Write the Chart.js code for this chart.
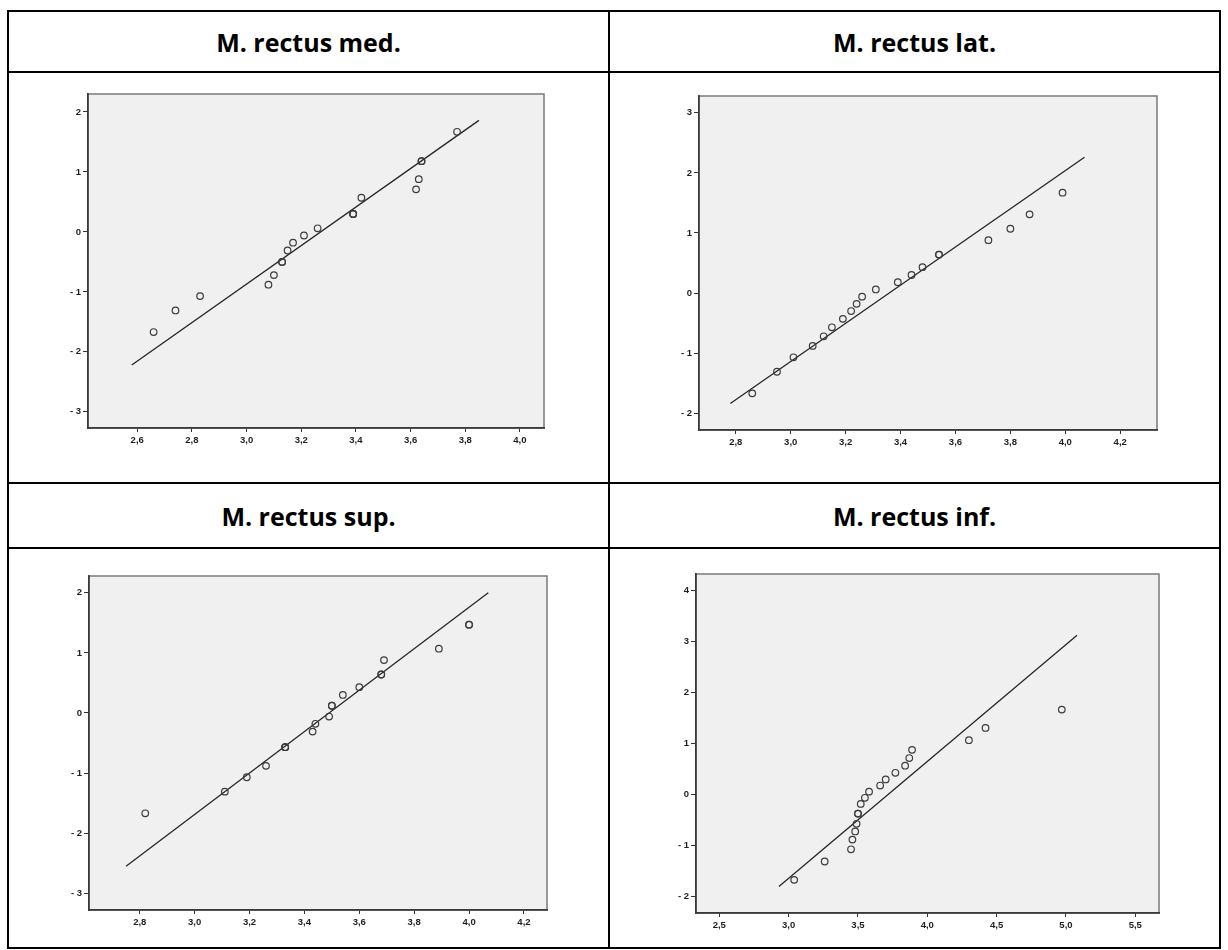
<!DOCTYPE html>
<html>
<head>
<meta charset="utf-8">
<script src="https://cdn.jsdelivr.net/npm/chart.js@4.4.1/dist/chart.umd.min.js"></script>
<style>
  html, body { margin: 0; padding: 0; background: #fff; }
  body { position: relative; width: 1228px; height: 950px; overflow: hidden; }
  .frame { position: absolute; left: 7px; top: 10px; width: 1214px; height: 939px; box-sizing: border-box; border: 2px solid #000; }
  .hline { position: absolute; left: 7px; width: 1214px; height: 2px; background: #000; }
  .vline { position: absolute; left: 608px; top: 10px; width: 2px; height: 939px; background: #000; }
  .head { position: absolute; display: flex; align-items: center; justify-content: center;
          font-family: "Open Sans", "Liberation Sans", sans-serif; font-weight: 700; font-size: 25px; color: #000; }
  canvas { position: absolute; }
</style>
</head>
<body>
<div class="frame"></div>
<div class="hline" style="top:71px"></div>
<div class="hline" style="top:482px"></div>
<div class="hline" style="top:547px"></div>
<div class="vline"></div>

<div class="head" style="left:9px;top:12px;width:599px;height:59px">M. rectus med.</div>
<div class="head" style="left:610px;top:12px;width:609px;height:59px">M. rectus lat.</div>
<div class="head" style="left:9px;top:484px;width:599px;height:63px">M. rectus sup.</div>
<div class="head" style="left:610px;top:484px;width:609px;height:63px">M. rectus inf.</div>

<canvas id="qq-med"></canvas>
<canvas id="qq-lat"></canvas>
<canvas id="qq-sup"></canvas>
<canvas id="qq-inf"></canvas>

<script>
// observed values and expected normal scores
const medValues = [2.66, 2.74, 2.83, 3.08, 3.10, 3.13, 3.13, 3.15, 3.17, 3.21, 3.26, 3.39, 3.39, 3.39, 3.42, 3.62, 3.63, 3.64, 3.64, 3.77];
const medScores = [-1.67, -1.31, -1.07, -0.88, -0.72, -0.50, -0.50, -0.31, -0.18, -0.06, 0.06, 0.30, 0.30, 0.30, 0.57, 0.71, 0.88, 1.18, 1.18, 1.67];
const medLineX = [2.58, 3.85];
const medLineY = [-2.22, 1.86];

const latValues = [2.86, 2.95, 3.01, 3.08, 3.12, 3.15, 3.19, 3.22, 3.24, 3.26, 3.31, 3.39, 3.44, 3.48, 3.54, 3.54, 3.72, 3.80, 3.87, 3.99];
const latScores = [-1.67, -1.31, -1.07, -0.88, -0.72, -0.57, -0.43, -0.30, -0.18, -0.06, 0.06, 0.18, 0.30, 0.43, 0.64, 0.64, 0.88, 1.07, 1.31, 1.67];
const latLineX = [2.78, 4.07];
const latLineY = [-1.84, 2.26];

const supValues = [2.82, 3.11, 3.19, 3.26, 3.33, 3.33, 3.33, 3.43, 3.44, 3.49, 3.50, 3.50, 3.54, 3.60, 3.68, 3.68, 3.69, 3.89, 4.00, 4.00];
const supScores = [-1.67, -1.31, -1.07, -0.88, -0.57, -0.57, -0.57, -0.31, -0.18, -0.06, 0.12, 0.12, 0.30, 0.43, 0.64, 0.64, 0.88, 1.07, 1.47, 1.47];
const supLineX = [2.75, 4.07];
const supLineY = [-2.55, 2.00];

const infValues = [3.04, 3.26, 3.45, 3.46, 3.48, 3.49, 3.50, 3.50, 3.52, 3.55, 3.58, 3.66, 3.70, 3.77, 3.84, 3.87, 3.89, 4.30, 4.42, 4.97];
const infScores = [-1.67, -1.31, -1.07, -0.88, -0.72, -0.57, -0.37, -0.37, -0.18, -0.06, 0.06, 0.18, 0.30, 0.43, 0.57, 0.72, 0.88, 1.07, 1.31, 1.67];
const infLineX = [2.93, 5.08];
const infLineY = [-1.80, 3.13];

// axis ticks
const medXTicks = [2.6, 2.8, 3.0, 3.2, 3.4, 3.6, 3.8, 4.0];
const medYTicks = [-3, -2, -1, 0, 1, 2];
const latXTicks = [2.8, 3.0, 3.2, 3.4, 3.6, 3.8, 4.0, 4.2];
const latYTicks = [-2, -1, 0, 1, 2, 3];
const supXTicks = [2.8, 3.0, 3.2, 3.4, 3.6, 3.8, 4.0, 4.2];
const supYTicks = [-3, -2, -1, 0, 1, 2];
const infXTicks = [2.5, 3.0, 3.5, 4.0, 4.5, 5.0, 5.5];
const infYTicks = [-2, -1, 0, 1, 2, 3, 4];

const AXIS_W = 40;
const AXIS_H = 30;
const PAD = 10;

// grey plot background with a thin frame
const plotFrame = {
    id: "plotFrame",
    beforeDraw(chart) {
        const { ctx, chartArea: a } = chart;
        ctx.save();
        ctx.fillStyle = "#f0f0f0";
        ctx.fillRect(a.left, a.top, a.right - a.left, a.bottom - a.top);
        ctx.strokeStyle = "#7a7a7a";
        ctx.lineWidth = 1.5;
        ctx.strokeRect(a.left, a.top, a.right - a.left, a.bottom - a.top);
        ctx.restore();
    },
};

const tickFont = { family: "Liberation Sans", size: 9.5, weight: "bold" };

const qqChart = (id, area, values, scores, lineX, lineY, xTicks, yTicks, xRange, yRange) => {
    const canvas = document.getElementById(id);
    const w = area.r - area.l + AXIS_W + PAD;
    const h = area.b - area.t + AXIS_H + PAD;
    canvas.width = w;
    canvas.height = h;
    canvas.style.left = (area.l - AXIS_W) + "px";
    canvas.style.top = (area.t - PAD) + "px";
    canvas.style.width = w + "px";
    canvas.style.height = h + "px";

    new Chart(canvas.getContext("2d"), {
        type: "scatter",
        data: {
            datasets: [
                {
                    type: "line",
                    data: lineX.map((x, i) => ({ x, y: lineY[i] })),
                    borderColor: "#262626",
                    borderWidth: 1.3,
                    pointRadius: 0,
                    fill: false,
                    order: 2,
                },
                {
                    data: values.map((x, i) => ({ x, y: scores[i] })),
                    pointStyle: "circle",
                    pointRadius: 3.3,
                    borderWidth: 1.2,
                    borderColor: "#3c3c3c",
                    backgroundColor: "rgba(0,0,0,0)",
                    order: 1,
                },
            ],
        },
        options: {
            responsive: false,
            animation: false,
            devicePixelRatio: 1,
            layout: { padding: { top: PAD, right: PAD, left: 0, bottom: 0 } },
            plugins: { legend: { display: false }, tooltip: { enabled: false } },
            scales: {
                x: {
                    type: "linear",
                    min: xRange[0],
                    max: xRange[1],
                    afterBuildTicks: (scale) => {
                        scale.ticks = xTicks.map((value) => ({ value }));
                    },
                    afterFit: (scale) => {
                        scale.height = AXIS_H;
                    },
                    grid: {
                        drawOnChartArea: false,
                        drawTicks: true,
                        tickLength: 4,
                        color: "#333",
                    },
                    border: { color: "#3a3a3a", width: 1.7 },
                    ticks: {
                        font: tickFont,
                        color: "#1e1e1e",
                        padding: 3,
                        maxRotation: 0,
                        autoSkip: false,
                        callback: (v) => v.toFixed(1).replace(".", ","),
                    },
                },
                y: {
                    type: "linear",
                    min: yRange[0],
                    max: yRange[1],
                    afterBuildTicks: (scale) => {
                        scale.ticks = yTicks.map((value) => ({ value }));
                    },
                    afterFit: (scale) => {
                        scale.width = AXIS_W;
                    },
                    grid: {
                        drawOnChartArea: false,
                        drawTicks: true,
                        tickLength: 5,
                        color: "#333",
                    },
                    border: { color: "#3a3a3a", width: 1.7 },
                    ticks: {
                        font: tickFont,
                        color: "#1e1e1e",
                        padding: 2,
                        autoSkip: false,
                        callback: (v) => (v < 0 ? "- " + Math.abs(v) : String(v)),
                    },
                },
            },
        },
        plugins: [plotFrame],
    });
};

document.addEventListener("DOMContentLoaded", () => {
    qqChart("qq-med", { l: 88, t: 94, r: 544, b: 428 }, medValues, medScores, medLineX, medLineY,
        medXTicks, medYTicks, [2.42, 4.088], [-3.27, 2.3]);
    qqChart("qq-lat", { l: 699, t: 96, r: 1157, b: 430 }, latValues, latScores, latLineX, latLineY,
        latXTicks, latYTicks, [2.666, 4.334], [-2.28, 3.28]);
    qqChart("qq-sup", { l: 89, t: 576, r: 547, b: 910 }, supValues, supScores, supLineX, supLineY,
        supXTicks, supYTicks, [2.615, 4.284], [-3.28, 2.28]);
    qqChart("qq-inf", { l: 696, t: 574, r: 1159, b: 913 }, infValues, infScores, infLineX, infLineY,
        infXTicks, infYTicks, [2.332, 5.671], [-2.32, 4.33]);
});
</script>
</body>
</html>
